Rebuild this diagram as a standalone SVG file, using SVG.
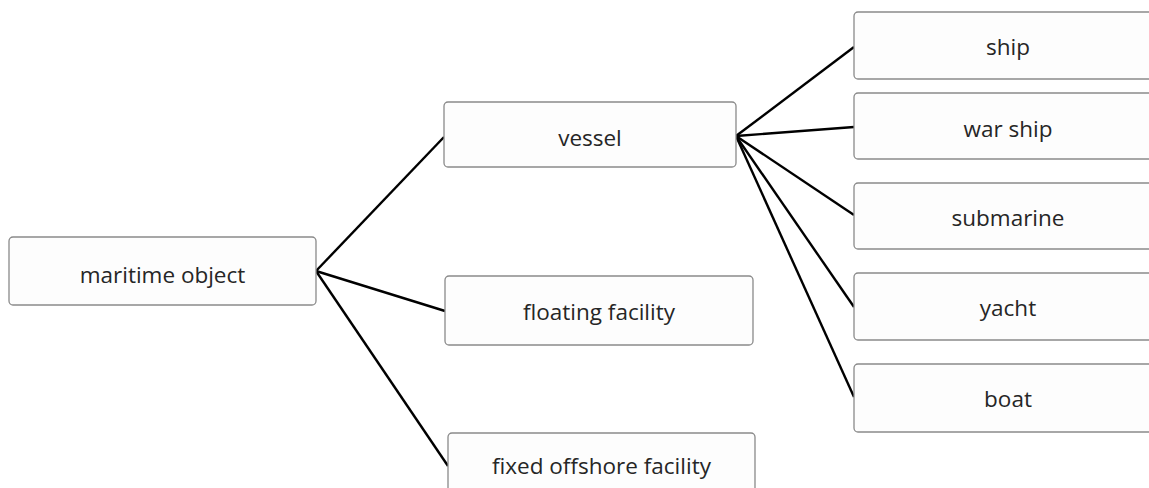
<svg xmlns="http://www.w3.org/2000/svg" width="1149" height="488" viewBox="0 0 1149 488">
<style>
.box{fill:#fdfdfd;stroke:#8a8a8a;stroke-width:1.3}
.lbl{font-family:"Open Sans","Noto Sans",sans-serif;font-size:22.5px;fill:#262626;text-anchor:middle}
.con{stroke:#000;stroke-width:2.4;fill:none}
</style>
<rect width="1149" height="488" fill="#ffffff"/>
<g id="connectors">
<line class="con" x1="316" y1="271" x2="444" y2="137"/>
<line class="con" x1="316" y1="271" x2="445" y2="311"/>
<line class="con" x1="316" y1="271" x2="448" y2="466"/>
<line class="con" x1="736" y1="136" x2="854" y2="47"/>
<line class="con" x1="736" y1="136" x2="854" y2="127"/>
<line class="con" x1="736" y1="136" x2="854" y2="215"/>
<line class="con" x1="736" y1="136" x2="854" y2="307"/>
<line class="con" x1="736" y1="136" x2="854" y2="397"/>
</g>
<g id="maritime-object">
<rect class="box" x="9" y="237" width="307" height="68" rx="4"/>
<text class="lbl" x="162.5" y="283">maritime object</text>
</g>
<g id="vessel">
<rect class="box" x="444" y="102" width="292" height="65" rx="4"/>
<text class="lbl" x="590" y="146">vessel</text>
</g>
<g id="floating-facility">
<rect class="box" x="445" y="276" width="308" height="69" rx="4"/>
<text class="lbl" x="599" y="320">floating facility</text>
</g>
<g id="fixed-offshore-facility">
<rect class="box" x="448" y="433" width="307" height="68" rx="4"/>
<text class="lbl" x="601.5" y="474">fixed offshore facility</text>
</g>
<g id="ship">
<rect class="box" x="854" y="12" width="310" height="67" rx="4"/>
<text class="lbl" x="1008" y="55">ship</text>
</g>
<g id="war-ship">
<rect class="box" x="854" y="93" width="310" height="66" rx="4"/>
<text class="lbl" x="1008" y="137">war ship</text>
</g>
<g id="submarine">
<rect class="box" x="854" y="183" width="310" height="66" rx="4"/>
<text class="lbl" x="1008" y="226">submarine</text>
</g>
<g id="yacht">
<rect class="box" x="854" y="273" width="310" height="67" rx="4"/>
<text class="lbl" x="1008" y="316">yacht</text>
</g>
<g id="boat">
<rect class="box" x="854" y="364" width="310" height="68" rx="4"/>
<text class="lbl" x="1008" y="407">boat</text>
</g>
</svg>
